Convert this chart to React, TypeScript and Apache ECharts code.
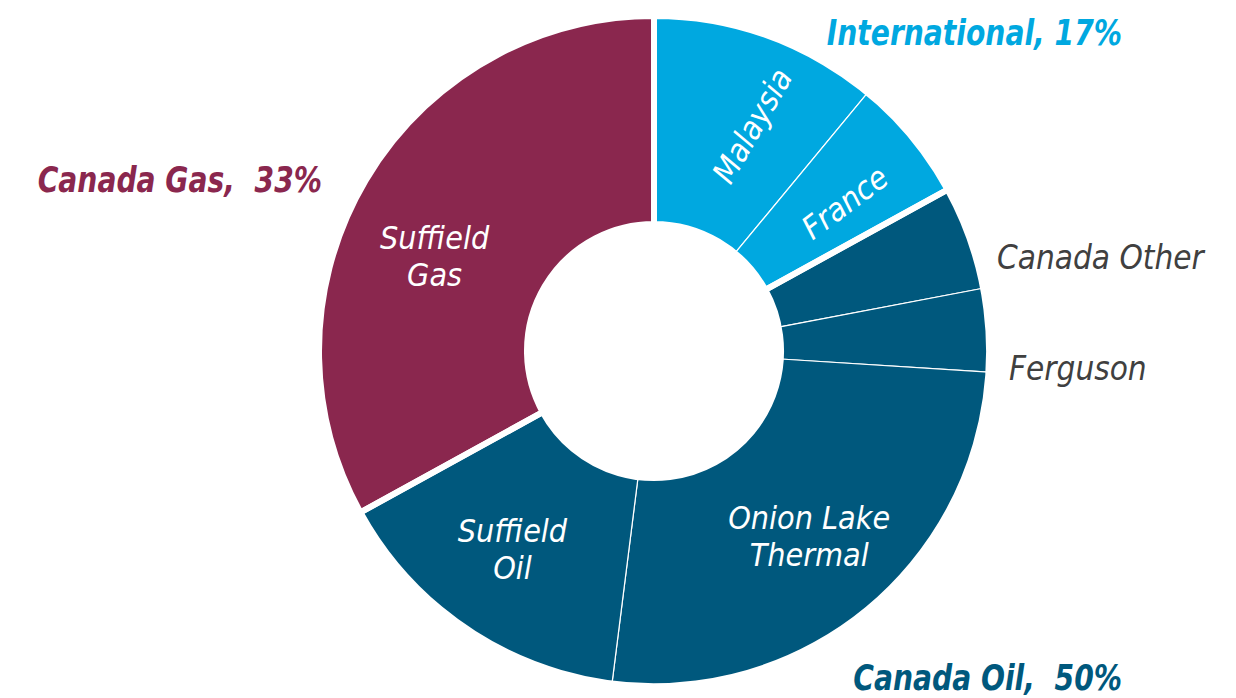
import React, { useEffect, useRef } from "react";
import * as echarts from "echarts";

// Segment data (clockwise from 12 o'clock)
const segmentNames = ["Malaysia", "France", "Canada Other", "Ferguson", "Onion Lake Thermal", "Suffield Oil", "Suffield Gas"];
const segmentLabels = ["Malaysia", "France", "Canada Other", "Ferguson", "Onion Lake\nThermal", "Suffield\nOil", "Suffield\nGas"];
const segmentShares = [11, 6, 5, 4, 26, 15, 33];
const segmentGroups = ["International", "International", "Canada Oil", "Canada Oil", "Canada Oil", "Canada Oil", "Canada Gas"];

// Group data
const groupNames = ["International", "Canada Oil", "Canada Gas"];
const groupShares = [17, 50, 33];
const groupTitles = ["International, 17%", "Canada Oil,  50%", "Canada Gas,  33%"];
const groupColors: Record<string, string> = {
  International: "#00A8E0",
  "Canada Oil": "#00587D",
  "Canada Gas": "#8A274E",
};

const FONT = "'Liberation Sans Narrow', 'DejaVu Sans Condensed', 'Roboto', sans-serif";

export default function App() {
  const ref = useRef<HTMLDivElement>(null);
  useEffect(() => {
    document.body.style.margin = "0";
    const chart = echarts.init(ref.current!, null, { renderer: "svg" });
    const center = [654, 351];
    const radius = [127, 335];

    const detailData = segmentNames.map((n, i) => {
      const outside = n === "Canada Other" || n === "Ferguson";
      const item: any = {
        name: n,
        value: segmentShares[i],
        itemStyle: { color: groupColors[segmentGroups[i]] },
        label: outside
          ? { position: "outside", color: "#404040", fontSize: 33 }
          : { position: "inside", color: "#ffffff" },
        labelLine: { show: false },
      };
      if (n === "Malaysia") item.label.rotate = 60;
      if (n === "France") item.label.rotate = 37;
      return item;
    });

    const groupData = groupNames.map((g, i) => ({ name: g, value: groupShares[i] }));

    // positions of group titles (layout only)
    const titlePos: Record<string, { x: number; y: number; align: string }> = {
      International: { x: 1122, y: 33, align: "right" },
      "Canada Oil": { x: 1122, y: 678, align: "right" },
      "Canada Gas": { x: 322, y: 180, align: "right" },
    };

    chart.setOption({
      animation: false,
      backgroundColor: "#ffffff",
      graphic: groupNames.map((g, i) => ({
        type: "text",
        x: titlePos[g].x,
        y: titlePos[g].y,
        scaleX: 0.87,
        style: {
          text: groupTitles[i],
          fill: groupColors[g],
          font: `italic bold 36px ${FONT}`,
          align: titlePos[g].align,
          verticalAlign: "middle",
        },
      })),
      series: [
        {
          type: "pie",
          silent: true,
          center,
          radius,
          startAngle: 90,
          clockwise: true,
          avoidLabelOverlap: false,
          itemStyle: { borderColor: "#ffffff", borderWidth: 1.2 },
          label: {
            show: true,
            formatter: (p: any) => segmentLabels[p.dataIndex],
            fontFamily: FONT,
            fontStyle: "italic",
            fontSize: 32,
            lineHeight: 37,
            align: "center",
          },
          labelLayout: (p: any) => {
            const name = segmentNames[p.dataIndex];
            if (name === "Canada Other") return { x: 997, y: 257, align: "left", verticalAlign: "middle" };
            if (name === "Ferguson") return { x: 1009, y: 368, align: "left", verticalAlign: "middle" };
            if (name === "Suffield Gas") return { dx: -18, dy: 25 };
            if (name === "Suffield Oil") return { dx: -10, dy: 5 };
            if (name === "Onion Lake Thermal") return { dx: 6, dy: 5 };
            if (name === "Malaysia") return { dx: 14, dy: 14 };
            if (name === "France") return { dx: 8, dy: 7 };
            return {};
          },
          data: detailData,
        },
        {
          type: "pie",
          silent: true,
          z: 3,
          center,
          radius,
          startAngle: 90,
          clockwise: true,
          label: { show: false },
          labelLine: { show: false },
          itemStyle: { color: "rgba(0,0,0,0)", borderColor: "#ffffff", borderWidth: 6 },
          data: groupData,
        },
      ],
    });
    return () => chart.dispose();
  }, []);
  return <div ref={ref} style={{ width: 1236, height: 698 }} />;
}
